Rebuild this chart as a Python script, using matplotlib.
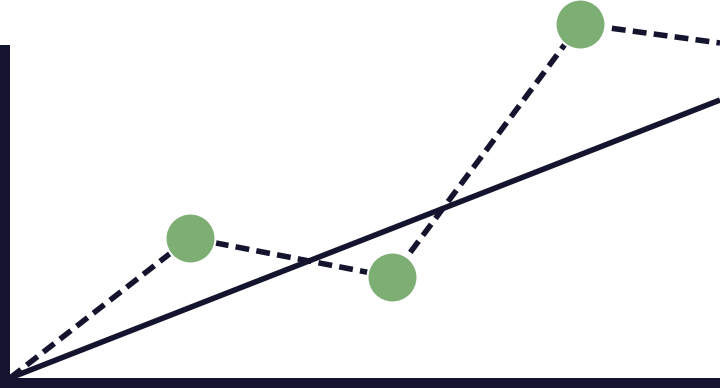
import matplotlib
matplotlib.use('Agg')
import matplotlib.pyplot as plt

# Values (origin at lower left corner of the axes)
trend_x = [0, 710]
trend_y = [0, 278]
series_x = [0, 180, 382, 570, 710]
series_y = [0, 140, 101, 354, 335]
marker_x = [180, 382, 570]
marker_y = [140, 101, 354]

navy = '#14142f'
green = '#7dae74'

fig = plt.figure(figsize=(7.2, 3.88), dpi=100)
ax = fig.add_axes([0, 0, 1, 1])
ax.set_xlim(-10, 710)
ax.set_ylim(-10, 378)

# axes drawn as thick bars
ax.plot([-5, -5], [-10, 333], color=navy, lw=7.2, solid_capstyle='butt')
ax.plot([-10, 710], [-5, -5], color=navy, lw=7.2, solid_capstyle='butt')

ax.plot(trend_x, trend_y, color=navy, lw=4, solid_capstyle='butt')
ax.plot(series_x, series_y, color=navy, lw=4, dashes=(2.5, 1.3))
ax.plot(marker_x, marker_y, 'o', ms=36, color=green,
        markeredgecolor='white', markeredgewidth=1.5, linestyle='none', zorder=3)

ax.axis('off')
fig.savefig('out.png', dpi=100)
